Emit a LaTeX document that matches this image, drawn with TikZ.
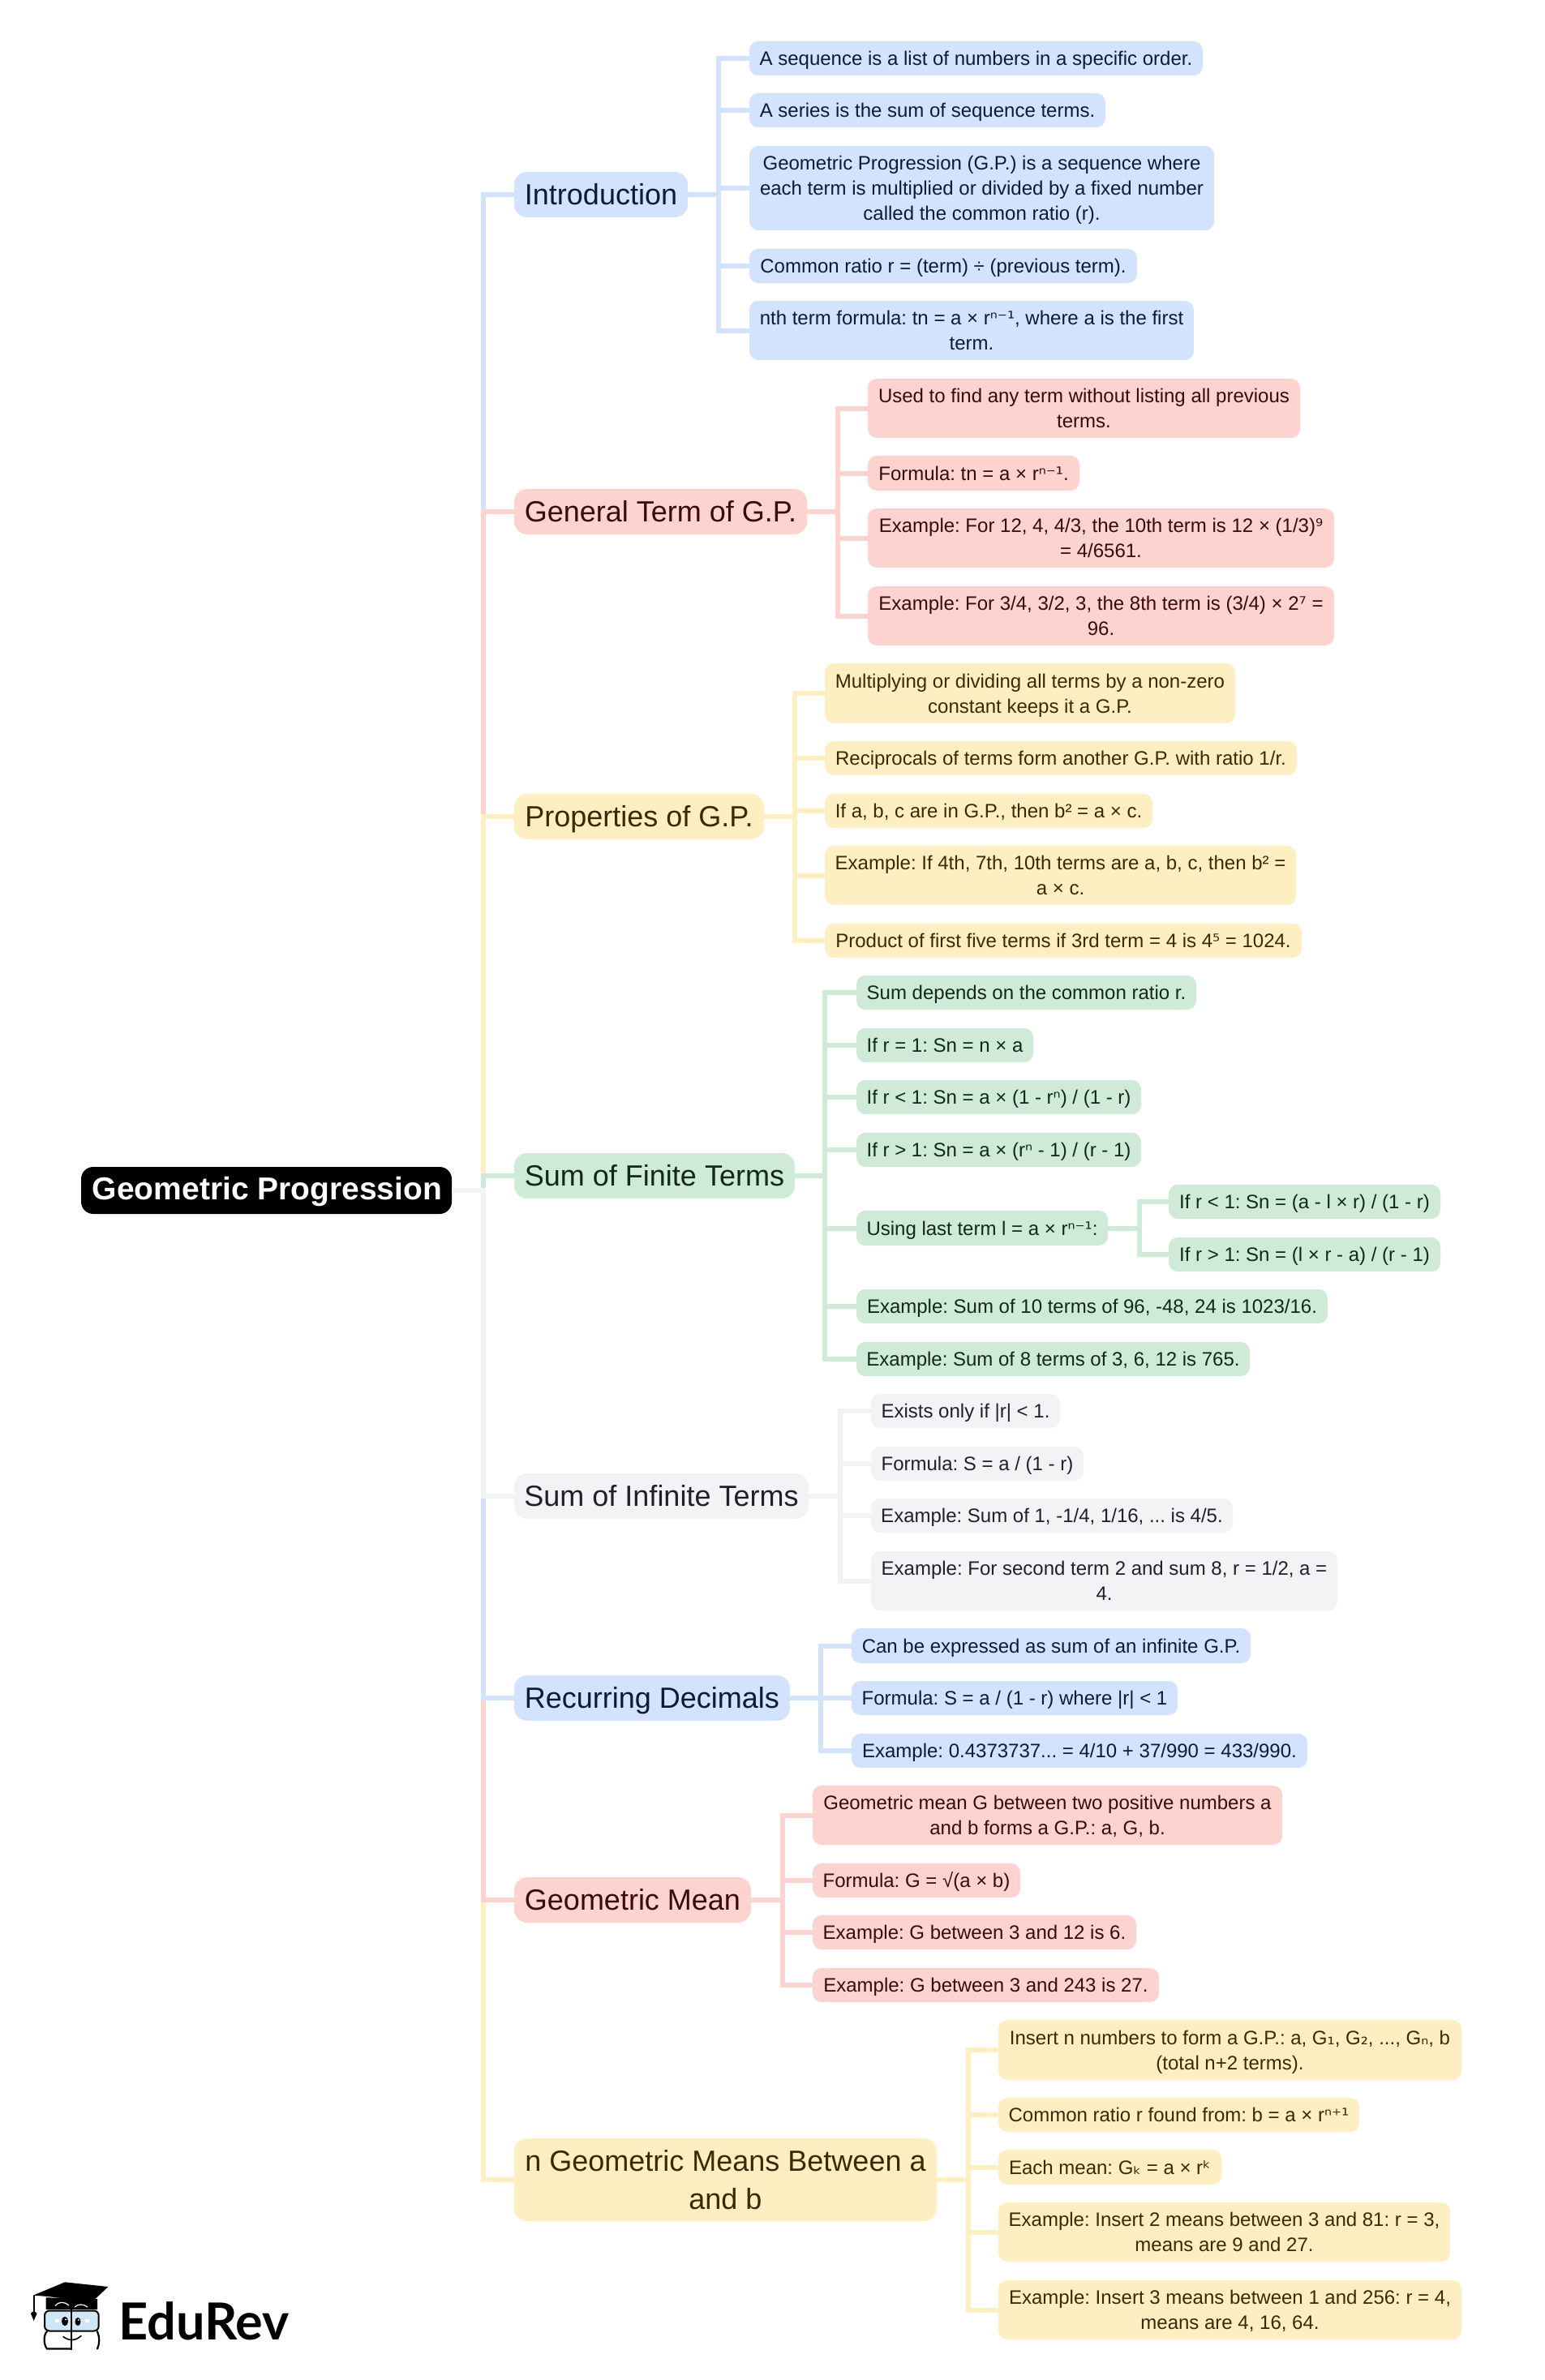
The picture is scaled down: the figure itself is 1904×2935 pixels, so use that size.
\documentclass[tikz,border=0pt]{standalone}
\usepackage{fontspec}
\setmainfont{Liberation Sans}
\newfontfamily\logofont{Lato}
\newfontfamily\symfont[Scale=0.95]{DejaVu Sans}
\definecolor{cb}{HTML}{D3E3FD}\definecolor{tb}{HTML}{0B1B3A}
\definecolor{cr}{HTML}{FCD3CF}\definecolor{tr}{HTML}{3A0B08}
\definecolor{cy}{HTML}{FEEFC3}\definecolor{ty}{HTML}{382B06}
\definecolor{cg}{HTML}{CFEAD6}\definecolor{tg}{HTML}{10291A}
\definecolor{cn}{HTML}{F1F3F5}\definecolor{tn}{HTML}{202124}
\definecolor{logoblue}{HTML}{CFE6F6}
\newcommand{\ls}{\rule[-7pt]{0pt}{31pt}}
\newcommand{\ps}{\rule[-10.5pt]{0pt}{46.5pt}}
\newcommand{\rs}{\rule[-10pt]{0pt}{42pt}}
\newcommand{\sy}[1]{{\symfont #1}}
\newcommand{\nd}[7]{\node[#6,minimum width={(#4-#2)*1pt},minimum height={(#5-#3)*1pt}] (#1) at ({(#2+#4)/2},{(#3+#5)/2}) {#7};}
\tikzset{
  box/.style={rounded corners=11pt,inner sep=0pt,outer sep=0pt,align=center},
  leaf/.style={box,font=\fontsize{24}{31}\selectfont\frenchspacing},
  parent/.style={box,rounded corners=16pt,font=\fontsize{36}{46.5}\selectfont\frenchspacing},
  lb/.style={leaf,fill=cb,text=tb},lr/.style={leaf,fill=cr,text=tr},ly/.style={leaf,fill=cy,text=ty},lg/.style={leaf,fill=cg,text=tg},ln/.style={leaf,fill=cn,text=tn},
  pb/.style={parent,fill=cb,text=tb},pr/.style={parent,fill=cr,text=tr},py/.style={parent,fill=cy,text=ty},pg/.style={parent,fill=cg,text=tg},pn/.style={parent,fill=cn,text=tn},
  rootbox/.style={box,rounded corners=15pt,fill=black,text=white,font=\fontsize{39}{46}\selectfont\bfseries},
  wire/.style={line width=6pt,line join=miter,line cap=butt},
}
\begin{document}
\begin{tikzpicture}[x=1pt,y=-1pt]
\useasboundingbox (0,0) rectangle (1904,2935);
\fill[white] (0,0) rectangle (1904,2935);
% root
\nd{root}{100}{1439}{557}{1497}{rootbox}{\rs\hspace*{2pt}Geometric Progression}
% parents
\nd{intro}{634}{212}{848}{268}{pb}{\ps Introduction}
\nd{gen}{634}{603}{995}{659}{pr}{\ps General Term of G.P.}
\nd{prop}{634}{979}{942}{1035}{py}{\ps Properties of G.P.}
\nd{fin}{634}{1422}{980}{1478}{pg}{\ps Sum of Finite Terms}
\nd{inf}{634}{1817}{997}{1873}{pn}{\ps Sum of Infinite Terms}
\nd{rec}{634}{2066}{974}{2122}{pb}{\ps Recurring Decimals}
\nd{gm}{634}{2315}{926}{2371}{pr}{\ps Geometric Mean}
\nd{ngm}{634}{2637}{1155}{2739}{py}{\ps n Geometric Means Between a\\\ps and b}
% introduction
\nd{a1}{924}{51}{1483}{93}{lb}{\ls A sequence is a list of numbers in a specific order.}
\nd{a2}{924}{115}{1363}{157}{lb}{\ls A series is the sum of sequence terms.}
\nd{a3}{924}{180}{1497}{284}{lb}{\ls Geometric Progression (G.P.) is a sequence where\\\ls each term is multiplied or divided by a fixed number\\\ls called the common ratio (r).}
\nd{a4}{924}{307}{1402}{349}{lb}{\ls Common ratio r = (term) ÷ (previous term).}
\nd{a5}{924}{371}{1472}{444}{lb}{\ls nth term formula: tn = a × r\sy{ⁿ⁻¹}, where a is the first\\\ls term.}
% general
\nd{b1}{1070}{467}{1603}{540}{lr}{\ls Used to find any term without listing all previous\\\ls terms.}
\nd{b2}{1070}{562}{1331}{605}{lr}{\ls Formula: tn = a × r\sy{ⁿ⁻¹}.}
\nd{b3}{1070}{627}{1645}{700}{lr}{\ls Example: For 12, 4, 4/3, the 10th term is 12 × (1/3)\sy{⁹}\\\ls = 4/6561.}
\nd{b4}{1070}{723}{1645}{796}{lr}{\ls Example: For 3/4, 3/2, 3, the 8th term is (3/4) × 2\sy{⁷} =\\\ls 96.}
% properties
\nd{c1}{1017}{818}{1523}{892}{ly}{\ls Multiplying or dividing all terms by a non-zero\\\ls constant keeps it a G.P.}
\nd{c2}{1017}{914}{1599}{956}{ly}{\ls Reciprocals of terms form another G.P. with ratio 1/r.}
\nd{c3}{1017}{979}{1421}{1021}{ly}{\ls If a, b, c are in G.P., then b² = a × c.}
\nd{c4}{1017}{1043}{1598}{1116}{ly}{\ls Example: If 4th, 7th, 10th terms are a, b, c, then b² =\\\ls a × c.}
\nd{c5}{1017}{1139}{1605}{1181}{ly}{\ls Product of first five terms if 3rd term = 4 is 4\sy{⁵} = 1024.}
% finite
\nd{d1}{1056}{1203}{1475}{1245}{lg}{\ls Sum depends on the common ratio r.}
\nd{d2}{1056}{1268}{1274}{1310}{lg}{\ls If r = 1: Sn = n × a}
\nd{d3}{1056}{1332}{1407}{1374}{lg}{\ls If r < 1: Sn = a × (1 - r\sy{ⁿ}) / (1 - r)}
\nd{d4}{1056}{1397}{1407}{1439}{lg}{\ls If r > 1: Sn = a × (r\sy{ⁿ} - 1) / (r - 1)}
\nd{d5}{1056}{1493}{1366}{1536}{lg}{\ls Using last term l = a × r\sy{ⁿ⁻¹}:}
\nd{d6}{1056}{1590}{1637}{1632}{lg}{\ls Example: Sum of 10 terms of 96, -48, 24 is 1023/16.}
\nd{d7}{1056}{1655}{1541}{1697}{lg}{\ls Example: Sum of 8 terms of 3, 6, 12 is 765.}
\nd{e1}{1441}{1461}{1776}{1503}{lg}{\ls If r < 1: Sn = (a - l × r) / (1 - r)}
\nd{e2}{1441}{1526}{1776}{1568}{lg}{\ls If r > 1: Sn = (l × r - a) / (r - 1)}
% infinite
\nd{f1}{1074}{1719}{1307}{1761}{ln}{\ls Exists only if |r| < 1.}
\nd{f2}{1074}{1784}{1336}{1826}{ln}{\ls Formula: S = a / (1 - r)}
\nd{f3}{1074}{1848}{1520}{1890}{ln}{\ls Example: Sum of 1, -1/4, 1/16, ... is 4/5.}
\nd{f4}{1074}{1913}{1649}{1986}{ln}{\ls Example: For second term 2 and sum 8, r = 1/2, a =\\\ls 4.}
% recurring
\nd{g1}{1050}{2008}{1542}{2051}{lb}{\ls Can be expressed as sum of an infinite G.P.}
\nd{g2}{1050}{2073}{1452}{2115}{lb}{\ls Formula: S = a / (1 - r) where |r| < 1}
\nd{g3}{1050}{2138}{1612}{2180}{lb}{\ls Example: 0.4373737... = 4/10 + 37/990 = 433/990.}
% geometric mean
\nd{h1}{1002}{2202}{1581}{2275}{lr}{\ls Geometric mean G between two positive numbers a\\\ls and b forms a G.P.: a, G, b.}
\nd{h2}{1002}{2298}{1258}{2340}{lr}{\ls Formula: G = √(a × b)}
\nd{h3}{1002}{2362}{1401}{2404}{lr}{\ls Example: G between 3 and 12 is 6.}
\nd{h4}{1002}{2427}{1429}{2469}{lr}{\ls Example: G between 3 and 243 is 27.}
% n means
\nd{k1}{1231}{2491}{1802}{2565}{ly}{\ls Insert n numbers to form a G.P.: a, G\sy{₁}, G\sy{₂}, ..., G\sy{ₙ}, b\\\ls (total n+2 terms).}
\nd{k2}{1231}{2587}{1676}{2629}{ly}{\ls Common ratio r found from: b = a × r\sy{ⁿ⁺¹}}
\nd{k3}{1231}{2651}{1506}{2694}{ly}{\ls Each mean: G\sy{ₖ} = a × r\sy{ᵏ}}
\nd{k4}{1231}{2716}{1788}{2789}{ly}{\ls Example: Insert 2 means between 3 and 81: r = 3,\\\ls means are 9 and 27.}
\nd{k5}{1231}{2812}{1802}{2885}{ly}{\ls Example: Insert 3 means between 1 and 256: r = 4,\\\ls means are 4, 16, 64.}
% bus positions
\coordinate (br) at (596,0);
\coordinate (bi) at (886,0);
\coordinate (bg) at (1033,0);
\coordinate (bp) at (980,0);
\coordinate (bf) at (1017,0);
\coordinate (bs) at (1405,0);
\coordinate (bn) at (1036,0);
\coordinate (bc) at (1012,0);
\coordinate (bm) at (965,0);
\coordinate (bk) at (1194,0);
% main connectors
\foreach \c/\k in {intro/cb,gen/cr,prop/cy,fin/cg,ngm/cy,gm/cr,rec/cb,inf/cn}
  \draw[wire,draw=\k] (root.east) -- (root.east -| br) |- (\c.west);
% branch connectors
\foreach \c in {a1,a2,a3,a4,a5} \draw[wire,draw=cb] (intro.east) -- (intro.east -| bi) |- (\c.west);
\foreach \c in {b1,b2,b3,b4} \draw[wire,draw=cr] (gen.east) -- (gen.east -| bg) |- (\c.west);
\foreach \c in {c1,c2,c3,c4,c5} \draw[wire,draw=cy] (prop.east) -- (prop.east -| bp) |- (\c.west);
\foreach \c in {d1,d2,d3,d4,d5,d6,d7} \draw[wire,draw=cg] (fin.east) -- (fin.east -| bf) |- (\c.west);
\foreach \c in {e1,e2} \draw[wire,draw=cg] (d5.east) -- (d5.east -| bs) |- (\c.west);
\foreach \c in {f1,f2,f3,f4} \draw[wire,draw=cn] (inf.east) -- (inf.east -| bn) |- (\c.west);
\foreach \c in {g1,g2,g3} \draw[wire,draw=cb] (rec.east) -- (rec.east -| bc) |- (\c.west);
\foreach \c in {h1,h2,h3,h4} \draw[wire,draw=cr] (gm.east) -- (gm.east -| bm) |- (\c.west);
\foreach \c in {k1,k2,k3,k4,k5} \draw[wire,draw=cy] (ngm.east) -- (ngm.east -| bk) |- (\c.west);
% logo
\node[anchor=base west,inner sep=0pt,font=\fontsize{63}{63}\selectfont\logofont\bfseries,text=black] (logotext) at (146,2885) {EduRev};
\fill[black] (56.7,2833.3) -- (56.7,2848) -- (120,2848) -- (120,2835) -- cycle;
\draw[white,line width=1.2pt] (68,2843.5) .. controls (72,2838) and (80,2838) .. (85,2843);
\draw[white,line width=1.2pt] (92,2845) .. controls (96,2841) and (103,2841) .. (108,2845);
\fill[black] (40.7,2830.7) -- (80,2814.3) -- (133.3,2820) -- (109.3,2842.7) .. controls (90,2835) and (65,2832) .. cycle;
\draw[black,line width=1.6pt] (41.7,2830.7) -- (41.7,2851);
\fill[black] (41.7,2862) -- (38,2853) .. controls (38.5,2850) and (45,2850) .. (45.5,2853) -- cycle;
\draw[black,line width=2pt,fill=logoblue,rounded corners=6pt] (55,2849.5) rectangle (121.7,2874.5);
\draw[black,line width=2.2pt,line cap=round] (58,2875) .. controls (53,2880) and (54,2892) .. (58,2896.5) -- (87,2896.5);
\draw[black,line width=2.2pt,line cap=round] (120,2875) .. controls (123,2882) and (123,2890) .. (120,2896.5);
\draw[black,line width=2pt] (88.3,2848) -- (88.3,2898);
\fill[black] (80,2862.5) ellipse [x radius=4,y radius=5.7];
\fill[black] (96,2863) ellipse [x radius=3.5,y radius=5];
\fill[white] (81,2860.5) circle [radius=1.1];
\fill[white] (96.8,2861) circle [radius=1];
\fill[white] (67.5,2859.5) rectangle (72.5,2864);
\fill[white] (105,2859.5) rectangle (110,2864);
\draw[black,line width=1.6pt,line cap=round] (78,2881.5) .. controls (85,2887) and (93,2887) .. (100,2880.5);
\end{tikzpicture}
\end{document}
